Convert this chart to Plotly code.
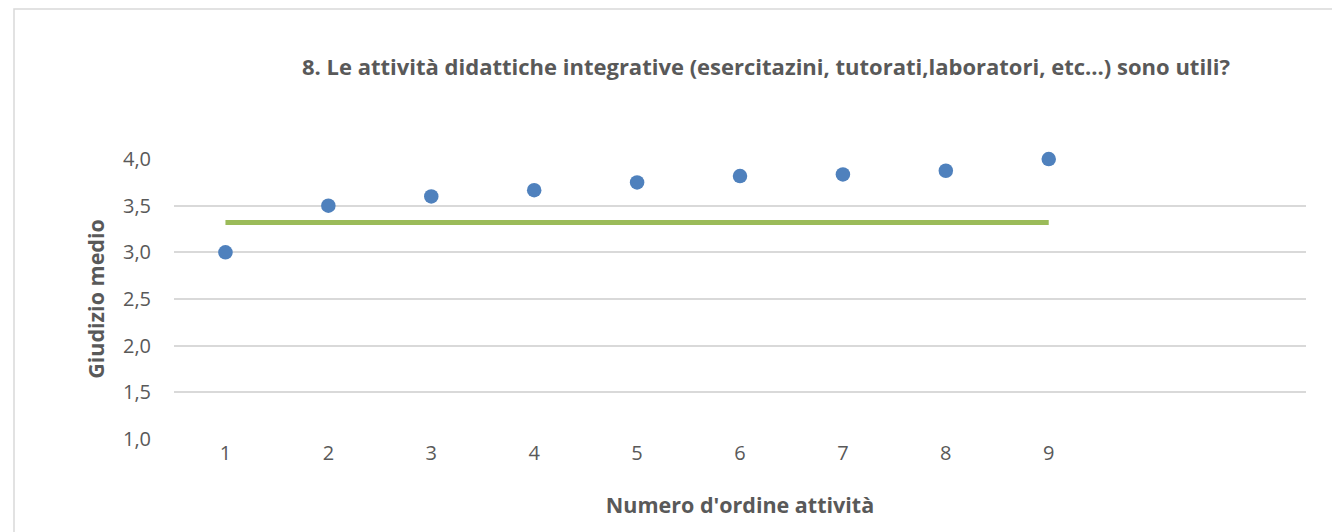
import plotly.graph_objects as go

activities = [1, 2, 3, 4, 5, 6, 7, 8, 9]
giudizio = [3.0, 3.5, 3.6, 3.667, 3.75, 3.818, 3.835, 3.875, 4.0]
soglia = [3.32] * len(activities)
y_ticks = [1.0, 1.5, 2.0, 2.5, 3.0, 3.5, 4.0]

TITLE = "8. Le attività didattiche integrative (esercitazini, tutorati,laboratori, etc...) sono utili?"
X_TITLE = "Numero d'ordine attività"
Y_TITLE = "Giudizio medio"

OFF = 8  # default page body margin
W, H = 1340 - OFF, 532 - OFF
L, T = 174 - OFF, 159 - OFF
R = W - (1306 - OFF)
B = H - (439 - OFF)
pw, ph = W - L - R, H - T - B

def px_x(p):
    return (p - OFF - L) / pw

def px_y(p):
    return (H - B - (p - OFF)) / ph

FONT = "Open Sans"
TXT = "#595959"

fig = go.Figure()
fig.add_trace(go.Scatter(
    x=activities, y=soglia, mode="lines",
    line=dict(color="#9BBB59", width=5),
    hoverinfo="skip", showlegend=False,
))
fig.add_trace(go.Scatter(
    x=activities, y=giudizio, mode="markers",
    marker=dict(color="#4F81BD", size=14.5, line=dict(width=0)),
    showlegend=False, cliponaxis=False,
))

fig.update_layout(
    width=W, height=H,
    margin=dict(l=L, r=R, t=T, b=B),
    paper_bgcolor="white", plot_bgcolor="white",
    font=dict(family=FONT, color=TXT, size=20),
    annotations=[dict(
        text="<b>" + TITLE + "</b>", x=px_x(766), y=px_y(66),
        xref="paper", yref="paper", xanchor="center", yanchor="middle",
        showarrow=False, font=dict(family=FONT, size=22, color=TXT),
    )],
    shapes=[dict(
        type="rect", xref="paper", yref="paper",
        x0=px_x(14), x1=px_x(1360), y0=px_y(560), y1=px_y(9),
        line=dict(color="#D9D9D9", width=1.5), fillcolor="rgba(0,0,0,0)",
        layer="below",
    )],
)

fig.update_xaxes(
    range=[0.5, 11.5], tickvals=activities, ticktext=[str(a) for a in activities],
    showgrid=False, zeroline=False, showline=False, ticks="",
    tickfont=dict(size=20, color=TXT), ticklabelstandoff=0,
    title=dict(text="<b>" + X_TITLE + "</b>", font=dict(size=21.5, color=TXT), standoff=32),
)
fig.update_yaxes(
    range=[0.999, 4.001], tickvals=y_ticks,
    ticktext=[f"{v:.1f}".replace(".", ",") for v in y_ticks],
    showgrid=True, gridcolor="#D9D9D9", gridwidth=1.6,
    zeroline=False, showline=False, ticks="",
    tickfont=dict(size=20, color=TXT), ticklabelstandoff=22,
    title=dict(text="<b>" + Y_TITLE + "</b>", font=dict(size=21.5, color=TXT), standoff=12),
)

fig.write_html("out.html")
